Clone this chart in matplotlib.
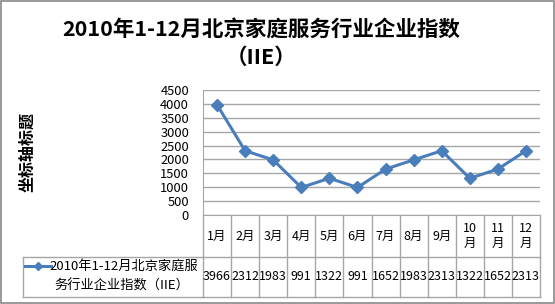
import matplotlib
matplotlib.use("Agg")
import matplotlib.pyplot as plt
from matplotlib.patches import Rectangle
from matplotlib.lines import Line2D

plt.rcParams['font.family'] = ['Noto Sans CJK SC', 'DejaVu Sans']

months = ['1月', '2月', '3月', '4月', '5月', '6月', '7月', '8月', '9月', '10\n月', '11\n月', '12\n月']
values = [3966, 2312, 1983, 991, 1322, 991, 1652, 1983, 2313, 1322, 1652, 2313]
yticks = [0, 500, 1000, 1500, 2000, 2500, 3000, 3500, 4000, 4500]
series_name = '2010年1-12月北京家庭服务行业企业指数（IIE）'
legend_lines = ['2010年1-12月北京家庭服', '务行业企业指数（IIE）']
title = '2010年1-12月北京家庭服务行业企业指数\n（IIE）'
ylabel = '坐标轴标题'

W, H = 555, 304
fig = plt.figure(figsize=(W / 100, H / 100), dpi=100)

def fx(px):
    return px / W

def fy(py):
    return 1 - py / H

left, right, top, bottom = 203, 540, 90, 215
ax = fig.add_axes([fx(left), fy(bottom), fx(right - left), fy(top) - fy(bottom)])

line_color = '#4A7EBB'
grid_color = '#A6A6A6'
table_color = '#A6A6A6'

x = list(range(len(values)))
ax.plot(x, values, color=line_color, lw=2.2, marker='D', ms=6, mec=line_color, mfc=line_color, zorder=3)
ax.set_xlim(-0.5, len(values) - 0.5)
ax.set_ylim(0, 4500)
ax.set_yticks(yticks)
ax.set_yticklabels([str(v) for v in yticks], fontsize=9.3)
ax.tick_params(axis='y', length=0, pad=10, colors='#000000')
ax.set_xticks([])
ax.yaxis.grid(True, color=grid_color, lw=1.0)
ax.set_axisbelow(True)
for s in ['top', 'right']:
    ax.spines[s].set_visible(False)
ax.spines['left'].set_color(table_color)
ax.spines['bottom'].set_color(table_color)

# data table
ah = bottom - top
def ay(py):
    return -(py - bottom) / ah

trans = ax.get_xaxis_transform()
row1_bot = 257
row2_bot = 297
leg_left = 23
kw = dict(color=table_color, lw=1.0, clip_on=False, transform=trans)
for i in range(len(values) + 1):
    xb = i - 0.5
    ax.add_line(Line2D([xb, xb], [ay(bottom), ay(row2_bot)], **kw))
ax.add_line(Line2D([-0.5, len(values) - 0.5], [ay(row1_bot), ay(row1_bot)], **kw))
ax.add_line(Line2D([-0.5, len(values) - 0.5], [ay(row2_bot), ay(row2_bot)], **kw))
fkw = dict(color=table_color, lw=1.0, transform=fig.transFigure)
fig.add_artist(Line2D([fx(leg_left), fx(left)], [fy(row1_bot), fy(row1_bot)], **fkw))
fig.add_artist(Line2D([fx(leg_left), fx(left)], [fy(row2_bot), fy(row2_bot)], **fkw))
fig.add_artist(Line2D([fx(leg_left), fx(leg_left)], [fy(row1_bot), fy(row2_bot)], **fkw))

for i, (m, v) in enumerate(zip(months, values)):
    ax.text(i, ay(236), m, ha='center', va='center', fontsize=9, transform=trans,
            linespacing=1.1, clip_on=False)
    ax.text(i, ay(277), str(v), ha='center', va='center', fontsize=9, transform=trans,
            clip_on=False)

# legend key
fig.add_artist(Line2D([fx(25), fx(51)], [fy(266), fy(266)], color=line_color, lw=2.2,
                      transform=fig.transFigure))
fig.add_artist(Line2D([fx(38)], [fy(266)], color=line_color, marker='D', ms=4.5,
                      transform=fig.transFigure))
fig.text(fx(124), fy(266), legend_lines[0], ha='center', va='center', fontsize=9.5)
fig.text(fx(122), fy(286), legend_lines[1], ha='center', va='center', fontsize=9.5)

# title and axis label
fig.text(fx(261), fy(43), title, ha='center', va='center', fontsize=15.5,
         fontweight='bold', linespacing=1.4)
fig.text(fx(27), fy(152), ylabel, ha='center', va='center', rotation=90,
         fontsize=11.5, fontweight='bold')

# outer frame
fig.add_artist(Rectangle((0.001, 0.002), 0.997, 0.995, transform=fig.transFigure,
                         fill=False, edgecolor='#888888', lw=1.2))

fig.savefig('out.png', dpi=100)
